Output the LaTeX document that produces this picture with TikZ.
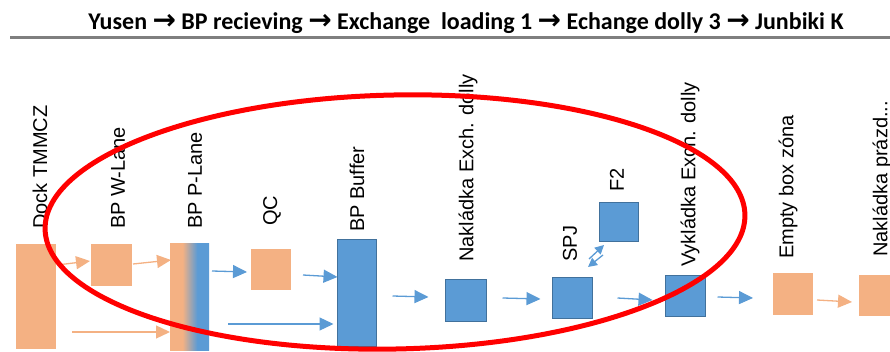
\documentclass[tikz,border=0pt]{standalone}
\usepackage{fontspec}
\setmainfont{Liberation Sans}
\newfontfamily\titlefont{Carlito}
\newfontfamily\arrowfont{DejaVu Sans}
\usetikzlibrary{arrows.meta}
\definecolor{myorange}{HTML}{F4B183}
\definecolor{myblue}{HTML}{5B9BD5}
\definecolor{myborder}{HTML}{41719C}
\definecolor{mygray}{HTML}{7F7F7F}
\pgfdeclarehorizontalshading{planeshade}{100bp}{color(0bp)=(myorange); color(41bp)=(myorange); color(60bp)=(myblue); color(100bp)=(myblue)}
\newcommand{\tarr}{{\arrowfont\bfseries\fontsize{28}{28}\selectfont →}}
\begin{document}
\begin{tikzpicture}[x=1pt,y=-1pt,
  obox/.style={rectangle, fill=myorange, inner sep=0pt, outer sep=0pt},
  bbox/.style={rectangle, fill=myblue, draw=myborder, line width=1.4pt, inner sep=0pt, outer sep=0pt},
  lbl/.style={rotate=90, anchor=west, inner sep=0pt, font=\fontsize{20}{22}\selectfont},
  oarrow/.style={draw=myorange, line width=1.3pt, -{Triangle[length=14pt,width=13pt]}},
  barrow/.style={draw=myblue, line width=1.3pt, -{Triangle[length=14pt,width=13pt]}},
  sarrow/.style={draw=myblue, line width=1.3pt, -{Triangle[length=9pt,width=9pt]}}
]
\useasboundingbox (0,0) rectangle (890,352);

% title
\node[anchor=base, inner sep=0pt, font=\titlefont\bfseries\fontsize{24}{26}\selectfont] (title) at (466,29.5)
  {Yusen \tarr{} BP recieving \tarr{} Exchange\ \ loading 1 \tarr{} Echange dolly 3 \tarr{} Junbiki K};
\coordinate (rl) at (10,37.5);
\coordinate (rr) at (890,37.5);
\draw[mygray, line width=2.2pt] (rl) -- (rr);

% boxes
\node[obox, minimum width=40pt, minimum height=105pt] (dock) at (36,296.5) {};
\node[obox, minimum width=41pt, minimum height=42pt] (wlane) at (111.5,265) {};
\node[rectangle, shading=planeshade, inner sep=0pt, outer sep=0pt, minimum width=39pt, minimum height=106pt] (plane) at (189.5,297) {};
\node[obox, minimum width=40pt, minimum height=41pt] (qc) at (271,269.5) {};
\node[bbox, minimum width=39pt, minimum height=107pt] (buffer) at (357,293) {};
\node[bbox, minimum width=41pt, minimum height=42pt] (nakl) at (466,300.5) {};
\node[bbox, minimum width=40pt, minimum height=41pt] (spj) at (572.5,298) {};
\node[bbox, minimum width=39pt, minimum height=39pt] (f2) at (619,222) {};
\node[bbox, minimum width=40pt, minimum height=41pt] (vykl) at (685.5,296) {};
\node[obox, minimum width=40pt, minimum height=42pt] (empty) at (793,294) {};
\node[obox, minimum width=40pt, minimum height=41pt] (naklp) at (879,295.5) {};

% labels
\node[lbl] (ldock) at (40,229) {Dock TMMCZ};
\node[lbl] (lwlane) at (118,229) {BP W-Lane};
\node[lbl] (lplane) at (195,229) {BP P-Lane};
\node[lbl] (lqc) at (272,226) {QC};
\node[lbl] (lbuffer) at (357,232) {BP Buffer};
\node[lbl] (lnakl) at (468,262) {Nakládka Exch. dolly};
\node[lbl] (lspj) at (570,262) {SPJ};
\node[lbl] (lf2) at (617,192) {F2};
\node[lbl] (lvykl) at (690,267) {Vykládka Exch. dolly};
\node[lbl] (lempty) at (788,259) {Empty box zóna};
\node[lbl] (lnaklp) at (882,257) {Nakládka prázd...};

% arrows
\draw[oarrow] ([xshift=1pt]dock.east |- 0,265) -- ([xshift=-1pt]wlane.west |- 0,261);
\draw[oarrow] ([xshift=1pt]wlane.east |- 0,264) -- ([xshift=1pt]plane.west |- 0,260);
\coordinate (t3) at (72,332);
\draw[oarrow] (t3) -- (plane.west |- t3);
\draw[barrow] ([xshift=3pt]plane.east |- 0,271) -- ([xshift=-4pt]qc.west |- 0,272);
\coordinate (t5) at (228,324);
\draw[barrow] (t5) -- ([xshift=-4pt]buffer.west |- t5);
\draw[barrow] ([xshift=12pt]qc.east |- 0,275) -- (buffer.west |- 0,277);
\draw[barrow] ([xshift=16pt]buffer.east |- 0,296) -- ([xshift=-17pt]nakl.west |- 0,297);
\draw[barrow] ([xshift=16pt]nakl.east |- 0,298) -- ([xshift=-12pt]spj.west |- 0,299);
\coordinate (s1) at (589,259);
\coordinate (h1) at (604,245);
\coordinate (s2) at (603,255);
\coordinate (h2) at (588,267);
\draw[sarrow] (s1) -- (h1);
\draw[sarrow] (s2) -- (h2);
\draw[barrow] ([xshift=25pt]spj.east |- 0,298) -- ([xshift=-13pt]vykl.west |- 0,300);
\draw[barrow] ([xshift=12pt]vykl.east |- 0,297) -- ([xshift=-20pt]empty.west |- 0,298);
\draw[oarrow] ([xshift=4pt]empty.east |- 0,300) -- ([xshift=-7pt]naklp.west |- 0,302);

% red ellipse
\draw[red, line width=5pt, rotate around={1.2:(395,222)}] (395,222) ellipse [x radius=350, y radius=127];
\end{tikzpicture}
\end{document}
